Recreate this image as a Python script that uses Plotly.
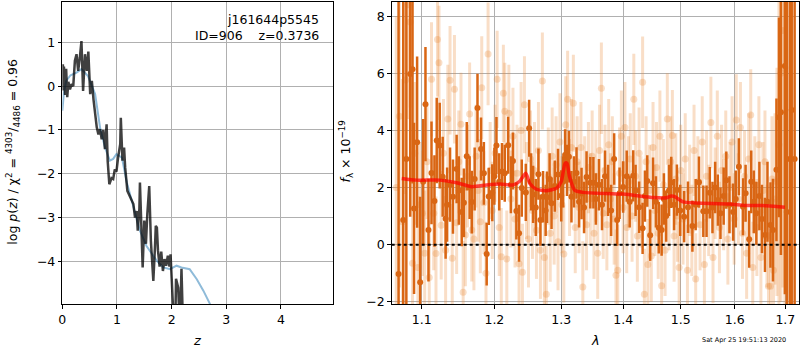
import plotly.graph_objects as go

# ---------------- left panel: p(z) ----------------
z_chi = [0.00, 0.01, 0.02, 0.03, 0.05, 0.07, 0.09, 0.11, 0.14, 0.17, 0.20, 0.23, 0.26, 0.29,
         0.32, 0.35, 0.38, 0.415, 0.45, 0.476, 0.51, 0.54, 0.57, 0.60, 0.63, 0.66, 0.69, 0.72,
         0.75, 0.78, 0.81, 0.83, 0.86, 0.90, 0.93, 0.96, 0.99, 1.02, 1.06, 1.07, 1.10, 1.13,
         1.15, 1.19, 1.23, 1.26, 1.30, 1.33, 1.36, 1.38, 1.41, 1.42, 1.445, 1.47, 1.50, 1.53,
         1.555, 1.59, 1.62, 1.65, 1.665, 1.695, 1.71, 1.73, 1.75, 1.78, 1.81, 1.84, 1.87, 1.90,
         1.93, 1.96, 1.98, 2.00, 2.03, 2.06, 2.08, 2.12, 2.15, 2.18, 2.21, 2.25]
logp_chi = [0.10, 0.50, -0.10, 0.45, -0.20, 0.40, -0.25, 0.10, -0.07, 0.05, 0.00, 0.58, 0.73, 0.35,
            0.65, 1.03, -0.11, 0.73, 0.35, 0.79, -0.18, 0.12, -0.30, -0.64, -0.94, -1.10, -0.98, -1.21,
            -1.00, -1.44, -0.87, -1.71, -2.24, -2.10, -2.12, -1.90, -1.95, -1.63, -1.32, -0.72, -1.70, -1.40,
            -1.86, -2.39, -2.50, -2.60, -2.69, -3.00, -2.85, -3.30, -2.80, -2.20, -3.38, -4.14, -3.07, -3.60,
            -2.92, -2.28, -3.53, -4.06, -4.45, -3.68, -3.19, -3.23, -3.75, -4.12, -3.78, -4.22, -3.95, -4.10,
            -3.87, -4.12, -3.84, -4.37, -5.60, -6.00, -4.40, -4.60, -5.60, -4.17, -5.60, -6.50]

z_fit = [0.00, 0.03, 0.07, 0.15, 0.26, 0.35, 0.47, 0.60, 0.69, 0.78, 0.87, 0.93, 0.99, 1.09,
         1.18, 1.30, 1.42, 1.54, 1.73, 1.85, 1.97, 2.09, 2.18, 2.33, 2.46, 2.58, 2.70, 2.80]
logp_fit = [-0.56, -0.15, 0.12, 0.25, 0.31, 0.39, 0.23, -0.18, -0.94, -1.40, -1.70, -1.66, -1.55, -1.63,
            -2.20, -2.77, -3.30, -3.65, -3.99, -4.14, -4.18, -4.10, -4.14, -4.18, -4.41, -4.67, -4.97, -5.30]

# ---------------- right panel: spectrum ----------------
lam_bin = [1.070, 1.076, 1.080, 1.085, 1.088, 1.090, 1.094, 1.098, 1.102, 1.105, 1.109, 1.113, 1.117,
           1.120, 1.124, 1.128, 1.132, 1.134, 1.138, 1.142, 1.147, 1.150, 1.154, 1.157, 1.161, 1.165,
           1.168, 1.172, 1.176, 1.181, 1.185, 1.189, 1.192, 1.197, 1.200, 1.203, 1.207, 1.211, 1.215,
           1.220, 1.224, 1.227, 1.232, 1.236, 1.240, 1.246, 1.251, 1.254, 1.257, 1.261, 1.265, 1.268,
           1.272, 1.276, 1.278, 1.282, 1.285, 1.290, 1.295, 1.300, 1.303, 1.306, 1.309, 1.312, 1.316,
           1.320, 1.324, 1.328, 1.332, 1.336, 1.340, 1.346, 1.351, 1.355, 1.360, 1.365, 1.370, 1.375,
           1.380, 1.385, 1.390, 1.394, 1.400, 1.406, 1.411, 1.417, 1.421, 1.427, 1.433, 1.437, 1.441,
           1.446, 1.451, 1.456, 1.461, 1.466, 1.470, 1.474, 1.479, 1.483, 1.488, 1.493, 1.499, 1.506,
           1.513, 1.521, 1.527, 1.533, 1.541, 1.547, 1.553, 1.558, 1.563, 1.568, 1.573, 1.579, 1.584,
           1.590, 1.597, 1.602, 1.608, 1.616, 1.621, 1.628, 1.632, 1.637, 1.642, 1.648, 1.653, 1.659,
           1.664, 1.670, 1.675, 1.682, 1.687, 1.691, 1.699, 1.703, 1.709, 1.713, 1.719]
flux_bin = [-1.03, 0.86, 3.0, 5.98, 6.14, 1.27, 3.59, -1.32, 2.2, 4.92, 0.51, 2.51, 1.53,
            3.65, 3.47, 2.38, 0.91, 1.40, 2.1, 1.68, 2.65, 1.9, 1.14, 1.47, 3.10, 2.0,
            1.49, 2.3, 4.79, 3.35, 2.50, -0.33, 1.69, 1.82, 2.4, 3.47, 2.2, 2.56, 2.50,
            3.48, 2.1, 2.93, 1.18, 0.40, 1.98, 1.83, 4.08, 2.2, 1.76, 1.3, 2.47, 0.86,
            1.68, 1.2, 1.66, 2.3, 1.45, 2.05, 2.46, 1.71, 2.2, 3.14, 2.6, 3.08, 1.68,
            2.2, 2.51, 1.5, 1.79, 1.3, 2.37, 2.17, 2.17, 1.6, 2.1, 1.4, 2.4, 1.9,
            1.2, 3.0, 0.86, 1.8, 2.02, 2.4, 1.5, 2.41, 1.9, 1.31, 0.57, 1.7, 2.23,
            0.33, 2.15, 1.5, 0.59, 0.51, 1.6, 1.0, 1.9, 2.18, 1.4, 1.91, 1.2, 0.98,
            1.31, 0.65, 1.4, 2.19, 1.17, 1.17, 1.82, 1.3, 2.0, 1.56, 1.1, 1.7, 2.26,
            1.4, 1.14, 1.6, 2.73, 1.33, 1.8, 0.19, 2.2, 1.5, 1.10, 1.7, 0.9, 0.34,
            1.5, 0.69, 0.51, 2.62, 4.46, 4.64, 6.26, 1.14, 3.0, 4.72, 3.0]
err_bin = [10, 9, 6, 5, 4, 3, 3, 3, 2.2, 2, 1.8, 1.8, 1.6,
           1.5, 1.5, 1.4, 1.4, 1.3, 1.3, 1.3, 1.2, 1.2, 1.2, 1.2, 1.2, 1.1,
           1.1, 1.1, 1.2, 1.1, 1.1, 1.1, 1.0, 1.0, 1.0, 1.0, 1.0, 1.0, 1.0,
           1.0, 1.0, 1.0, 1.0, 1.0, 1.0, 1.0, 1.0, 1.0, 1.0, 1.0, 0.9, 0.9,
           0.9, 0.9, 0.9, 0.9, 0.9, 0.9, 0.9, 0.9, 0.9, 0.9, 0.9, 0.9, 0.9,
           0.9, 0.9, 0.9, 0.9, 0.9, 0.9, 0.9, 0.9, 0.9, 0.9, 0.9, 0.9, 0.9,
           0.9, 0.9, 0.9, 0.9, 0.9, 0.9, 0.9, 0.9, 0.9, 0.9, 0.9, 0.9, 0.9,
           0.9, 0.9, 0.9, 0.9, 0.9, 0.9, 0.9, 0.9, 0.9, 0.9, 0.9, 0.9, 0.9,
           0.9, 0.9, 0.9, 0.9, 0.9, 0.9, 0.9, 0.9, 0.9, 0.9, 0.9, 1.0, 1.0,
           1.0, 1.0, 1.0, 1.0, 1.0, 1.0, 1.0, 1.1, 1.1, 1.1, 1.2, 1.2, 1.3,
           1.4, 1.5, 1.8, 2.5, 3.5, 5, 8, 10, 12, 12, 12]

lam_raw = [1.067, 1.071, 1.075, 1.079, 1.082, 1.085, 1.088, 1.091, 1.095, 1.098, 1.101, 1.104, 1.107,
           1.110, 1.113, 1.116, 1.119, 1.121, 1.123, 1.126, 1.129, 1.132, 1.135, 1.138, 1.141, 1.144,
           1.147, 1.150, 1.153, 1.156, 1.159, 1.162, 1.165, 1.168, 1.171, 1.174, 1.177, 1.180, 1.182,
           1.185, 1.188, 1.191, 1.194, 1.197, 1.201, 1.204, 1.207, 1.210, 1.213, 1.215, 1.218, 1.221,
           1.224, 1.227, 1.230, 1.233, 1.236, 1.239, 1.241, 1.244, 1.247, 1.250, 1.253, 1.256, 1.259,
           1.262, 1.265, 1.268, 1.271, 1.274, 1.277, 1.280, 1.283, 1.286, 1.289, 1.292, 1.295, 1.298,
           1.301, 1.304, 1.307, 1.310, 1.313, 1.316, 1.319, 1.322, 1.325, 1.328, 1.331, 1.334, 1.337,
           1.340, 1.343, 1.346, 1.349, 1.352, 1.355, 1.358, 1.361, 1.364, 1.367, 1.370, 1.373, 1.376,
           1.379, 1.382, 1.385, 1.388, 1.391, 1.394, 1.397, 1.400, 1.403, 1.406, 1.409, 1.412, 1.415,
           1.418, 1.421, 1.424, 1.427, 1.430, 1.433, 1.436, 1.439, 1.442, 1.445, 1.448, 1.451, 1.454,
           1.457, 1.460, 1.463, 1.466, 1.469, 1.472, 1.476, 1.479, 1.482, 1.485, 1.488, 1.491, 1.494,
           1.497, 1.500, 1.504, 1.508, 1.512, 1.516, 1.520, 1.524, 1.527, 1.531, 1.535, 1.539, 1.543,
           1.547, 1.551, 1.555, 1.559, 1.563, 1.567, 1.571, 1.575, 1.579, 1.583, 1.587, 1.591, 1.595,
           1.599, 1.603, 1.607, 1.611, 1.615, 1.619, 1.623, 1.627, 1.631, 1.635, 1.639, 1.643, 1.647,
           1.651, 1.655, 1.659, 1.663, 1.666, 1.670, 1.673, 1.676, 1.679, 1.683, 1.687, 1.691, 1.695,
           1.699]
flux_raw = [2.0, 4.5, 0.8, 5.77, 8.4, 7.8, -0.65, 3.2, -0.8, 1.4, 1.1, -0.3, 2.9,
            -1.15, 5.79, 1.1, -0.31, 7.19, 6.37, 0.68, 3.2, -0.2, 4.40, 5.76, -0.48, 5.44,
            0.77, 2.9, 4.22, -1.67, 0.34, 2.4, 4.58, 0.51, 0.2, 3.1, 1.9, 0.8, 5.5,
            1.47, -1.0, 6.68, 2.6, 1.2, 3.2, 5.79, 0.6, -0.42, 5.30, 4.67, -0.5, 4.6,
            1.6, 3.8, 0.9, 2.5, -0.67, 4.0, -0.97, 4.9, 1.9, 0.2, 3.0, 1.2, 2.6,
            0.5, 3.3, -0.2, 5.73, -0.45, -1.74, 2.4, 0.4, 3.1, 1.0, 2.8, 0.1, 3.6,
            1.4, -0.33, 4.2, 5.09, 2.0, 3.4, 4.95, 0.6, 2.9, 1.3, 3.4, -1.48, 2.2,
            0.7, 2.7, 1.6, 3.1, 0.4, 2.4, -0.3, 3.3, 5.48, 1.1, 2.6, 0.7, 3.5,
            1.6, 2.9, 0.9, -1.07, -0.9, 2.5, 3.8, 1.3, 4.1, 0.6, 2.2, 3.0, 1.0,
            5.09, 2.4, 0.3, 3.2, 1.5, 5.69, -1.74, 2.9, -0.7, 1.9, -0.4, 3.4, 1.2,
            2.7, 0.4, 3.8, -1.44, 2.1, -0.2, 4.4, 1.4, 2.9, 3.82, 0.3, 2.3, 1.0,
            -0.8, 2.6, 0.9, 3.0, -0.9, 1.9, 0.5, 3.3, -1.2, 2.2, 0.7, 3.6, -0.7,
            2.4, 1.2, 4.28, -0.45, 1.8, 3.8, 0.6, 2.6, 1.4, 3.1, 0.2, 2.0, 3.6,
            0.9, 4.37, 1.6, 4.1, 0.4, 2.4, -0.3, 3.0, 4.54, -0.8, 2.1, 0.6, 3.5,
            -0.45, 1.9, 2.9, 0.3, -1.46, -1.46, 2.3, -0.9, 1.6, 2.2, 3.5, 6.0, 7.5,
            6.2]
err_raw = [6, 6, 5, 4, 4, 3, 3, 2.5, 2.5, 2.2, 2.2, 2.2, 2.0,
           2.0, 2.0, 2.0, 2.0, 2.0, 2.0, 1.9, 1.9, 1.9, 1.9, 1.9, 1.9, 1.9,
           1.8, 1.8, 1.8, 1.8, 1.8, 1.8, 1.8, 1.8, 1.8, 1.8, 1.8, 1.8, 1.8,
           1.8, 1.8, 1.8, 1.7, 1.7, 1.7, 1.7, 1.7, 1.7, 1.7, 1.7, 1.7, 1.7,
           1.7, 1.7, 1.7, 1.7, 1.7, 1.7, 1.7, 1.7, 1.7, 1.7, 1.7, 1.7, 1.7,
           1.7, 1.7, 1.7, 1.7, 1.7, 1.7, 1.7, 1.7, 1.7, 1.7, 1.7, 1.7, 1.7,
           1.7, 1.7, 1.7, 1.7, 1.7, 1.7, 1.7, 1.6, 1.6, 1.6, 1.6, 1.6, 1.6,
           1.6, 1.6, 1.6, 1.6, 1.6, 1.6, 1.6, 1.6, 1.6, 1.6, 1.6, 1.6, 1.6,
           1.6, 1.6, 1.6, 1.6, 1.6, 1.6, 1.6, 1.6, 1.6, 1.6, 1.6, 1.6, 1.6,
           1.6, 1.6, 1.6, 1.6, 1.6, 1.6, 1.6, 1.6, 1.6, 1.6, 1.6, 1.6, 1.6,
           1.6, 1.6, 1.6, 1.6, 1.6, 1.6, 1.6, 1.6, 1.6, 1.6, 1.6, 1.6, 1.6,
           1.6, 1.6, 1.6, 1.6, 1.6, 1.6, 1.6, 1.6, 1.6, 1.6, 1.6, 1.6, 1.6,
           1.6, 1.6, 1.6, 1.6, 1.6, 1.6, 1.6, 1.6, 1.6, 1.6, 1.6, 1.6, 1.6,
           1.6, 1.6, 1.6, 1.6, 1.6, 1.6, 1.6, 1.6, 1.6, 1.6, 1.7, 1.7, 1.7,
           1.7, 1.7, 1.8, 1.8, 1.9, 2.0, 2.2, 2.5, 3, 4, 6, 8, 9,
           9]

lam_model = [1.074, 1.093, 1.124, 1.147, 1.168, 1.189, 1.208, 1.227, 1.237, 1.246, 1.252, 1.262,
             1.277, 1.293, 1.300, 1.306, 1.309, 1.313, 1.321, 1.334, 1.400, 1.451, 1.474, 1.483,
             1.489, 1.504, 1.528, 1.590, 1.621, 1.654, 1.699]
flux_model = [2.32, 2.26, 2.26, 2.17, 2.03, 2.09, 2.12, 2.09, 2.22, 2.50, 2.14, 1.94,
              1.89, 1.98, 2.21, 2.85, 2.85, 2.38, 1.91, 1.83, 1.77, 1.65, 1.64, 1.70,
              1.68, 1.50, 1.46, 1.42, 1.37, 1.37, 1.31]

x1_ticks = [0, 1, 2, 3, 4]
y1_ticks = [-4, -3, -2, -1, 0, 1]
x2_ticks = [1.1, 1.2, 1.3, 1.4, 1.5, 1.6, 1.7]
y2_ticks = [-2, 0, 2, 4, 6, 8]

FONT = "DejaVu Sans"
DARK = "rgb(217,102,20)"
LIGHT = "rgba(232,135,55,0.28)"

fig = go.Figure()

fig.add_trace(go.Scatter(x=z_fit, y=logp_fit, mode="lines",
                         line=dict(color="rgba(31,119,180,0.5)", width=2),
                         xaxis="x", yaxis="y", showlegend=False))
fig.add_trace(go.Scatter(x=z_chi, y=logp_chi, mode="lines",
                         line=dict(color="rgba(0,0,0,0.75)", width=2.5),
                         xaxis="x", yaxis="y", showlegend=False))

fig.add_trace(go.Scatter(x=lam_raw, y=flux_raw, mode="markers",
                         marker=dict(color=LIGHT, size=7),
                         error_y=dict(type="data", array=err_raw, visible=True,
                                      color=LIGHT, thickness=3, width=0),
                         xaxis="x2", yaxis="y2", showlegend=False))
fig.add_trace(go.Scatter(x=lam_bin, y=flux_bin, mode="markers",
                         marker=dict(color=DARK, size=6),
                         error_y=dict(type="data", array=err_bin, visible=True,
                                      color=DARK, thickness=2.5, width=0),
                         xaxis="x2", yaxis="y2", showlegend=False))
fig.add_trace(go.Scatter(x=lam_model, y=flux_model, mode="lines",
                         line=dict(color="rgba(255,0,0,0.7)", width=3.5, shape="spline",
                                   smoothing=0.6),
                         xaxis="x2", yaxis="y2", showlegend=False))

axis_common = dict(showline=True, mirror=True, linecolor="black", linewidth=1,
                   showgrid=True, gridcolor="#b0b0b0", gridwidth=1, zeroline=False,
                   ticks="outside", ticklen=3.5, tickwidth=1, tickcolor="black",
                   automargin=False,
                   tickfont=dict(family=FONT, size=12.5, color="black"))

fig.update_layout(
    width=800, height=350,
    margin=dict(l=0, r=0, t=0, b=0),
    paper_bgcolor="white", plot_bgcolor="white",
    font=dict(family=FONT, color="black"),
    xaxis=dict(domain=[0.0779, 0.4166], range=[0, 4.957], tickvals=x1_ticks,
               anchor="y", **axis_common),
    yaxis=dict(domain=[0.1314, 0.9951], range=[-4.975, 1.93], tickvals=y1_ticks,
               anchor="x", **axis_common),
    xaxis2=dict(domain=[0.4896, 0.99875], type="log", range=[0.025797, 0.237544],
                tickvals=x2_ticks, ticktext=[f"{v:.1f}" for v in x2_ticks],
                anchor="y2", **axis_common),
    yaxis2=dict(domain=[0.1314, 0.9951], range=[-2.08, 8.51], tickvals=y2_ticks,
                anchor="x2", **axis_common),
    shapes=[dict(type="line", xref="x2 domain", yref="y2", x0=0, x1=1, y0=0, y1=0,
                 line=dict(color="black", width=2, dash="dot"), layer="above")],
    annotations=[
        dict(text="j161644p5545", xref="paper", yref="paper", x=0.401, y=0.943,
             xanchor="right", yanchor="middle", showarrow=False,
             font=dict(family=FONT, size=12.5)),
        dict(text="ID=906&nbsp;&nbsp;&nbsp;&nbsp;z=0.3736", xref="paper", yref="paper",
             x=0.401, y=0.899, xanchor="right", yanchor="middle", showarrow=False,
             font=dict(family=FONT, size=12.5)),
        dict(text="log <i>p</i>(<i>z</i>) / χ<sup>2</sup> = <sup>4303</sup>/<sub>4486</sub> = 0.96",
             xref="paper", yref="paper", x=0.016, y=0.566, textangle=-90,
             xanchor="center", yanchor="middle", showarrow=False,
             font=dict(family=FONT, size=12.5)),
        dict(text="<i>z</i>", xref="paper", yref="paper", x=0.2472, y=0.027,
             xanchor="center", yanchor="middle", showarrow=False,
             font=dict(family=FONT, size=13)),
        dict(text="<i>f</i><sub>λ</sub> × 10<sup>−19</sup>", xref="paper", yref="paper",
             x=0.432, y=0.566, textangle=-90, xanchor="center", yanchor="middle",
             showarrow=False, font=dict(family=FONT, size=12.5)),
        dict(text="<i>λ</i>", xref="paper", yref="paper", x=0.7441, y=0.027,
             xanchor="center", yanchor="middle", showarrow=False,
             font=dict(family=FONT, size=13)),
        dict(text="Sat Apr 25 19:51:13 2020", xref="paper", yref="paper", x=0.985, y=0.03,
             xanchor="right", yanchor="middle", showarrow=False,
             font=dict(family=FONT, size=6.5)),
    ],
)

fig.write_html("out.html", config={"displayModeBar": False},
               post_script="document.body.style.margin='0px';document.body.style.overflow='hidden';")
